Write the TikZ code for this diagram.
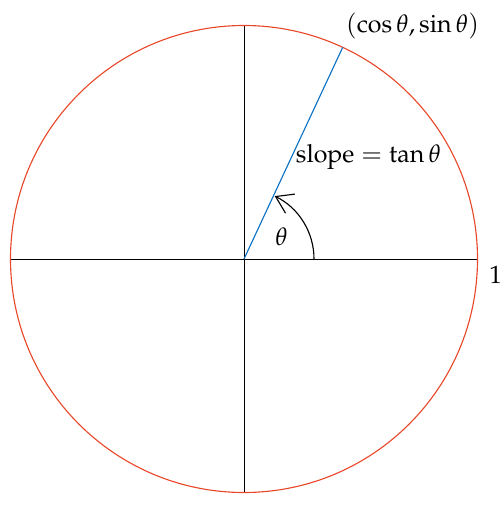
\documentclass[tikz,border=0pt]{standalone}
\usepackage{mathpazo}
\usetikzlibrary{calc,arrows.meta}
\definecolor{circred}{RGB}{232,72,42}
\definecolor{lineblue}{RGB}{10,114,196}
\tikzset{
  axis/.style={black, line width=0.4pt},
  lbl/.style={inner sep=0pt, anchor=base},
  anglearrow/.style={black, line width=0.45pt, -{Straight Barb[length=6.5pt, width=8.5pt]}},
}
\begin{document}
\begin{tikzpicture}[x=0.40pt, y=-0.40pt]
\useasboundingbox (0,0) rectangle (504,506);
\coordinate (O) at (244,259);
\coordinate (L) at (10.5,259);
\coordinate (R) at (477.5,259);
\coordinate (T) at (244,25.5);
\coordinate (B) at (244,492.5);
\coordinate (P) at ($(O)+(-65:233.5)$);
\coordinate (A0) at ($(O)+(70,0)$);
\draw[axis] (L) -- (R);
\draw[axis] (T) -- (B);
\draw[circred, line width=0.45pt] (O) circle (233.5);
\draw[lineblue, line width=0.45pt] (O) -- (P);
\draw[anglearrow] (A0) arc[start angle=0, end angle=-64, radius=70];
\node[lbl] (th) at (281.5,245) {$\theta$};
\node[lbl] (sl) at (368.5,163) {$\mathrm{slope}=\tan\theta$};
\node[lbl] (pt) at (412.5,33) {$(\cos\theta,\sin\theta)$};
\node[lbl] (one) at (495.5,283) {$1$};
\end{tikzpicture}
\end{document}
